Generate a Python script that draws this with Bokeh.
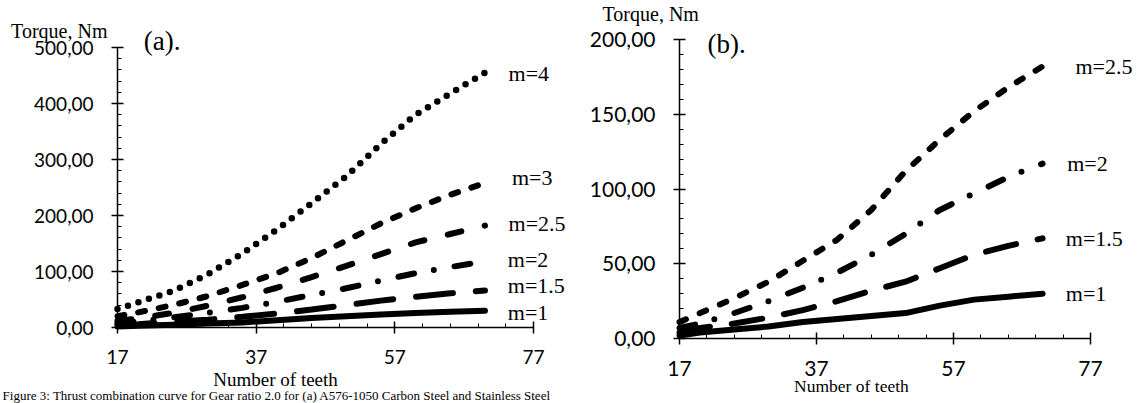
from bokeh.plotting import figure
from bokeh.models import Label, FixedTicker, LinearAxis, Range1d
from bokeh.embed import file_html
from bokeh.resources import INLINE

# ---------------- data ----------------
teeth = [17, 20, 25, 30, 35, 40, 45, 50, 55, 60, 65, 70]

# panel (a)
a_m4 = [33, 45, 65, 95, 132, 175, 222, 270, 328, 380, 418, 455]
a_m3 = [20, 27, 40, 56, 76, 97, 124, 155, 186, 213, 237, 258]
a_m25 = [12, 16, 26, 39, 54, 71, 90, 110, 131, 152, 167, 182]
a_m2 = [8, 11, 18, 26, 35, 46, 58, 70, 84, 97, 108, 118]
a_m15 = [5, 6, 10, 14, 19, 25, 32, 40, 48, 55, 61, 66]
a_m1 = [2, 3, 5, 7, 9, 13, 17, 20, 23, 26, 28, 30]

# panel (b)
b_m25 = [11, 17, 27, 38, 52, 66, 86, 112, 133, 152, 168, 182]
b_m2 = [7, 10, 17, 25, 34, 44, 56, 70, 86, 97, 108, 117]
b_m15 = [4, 7, 10, 14, 19, 25, 32, 38, 47, 56, 62, 67]
b_m1 = [2, 4, 6, 8, 11, 13, 15, 17, 22, 26, 28, 30]

x_ticks = [17, 37, 57, 77]
x_labels = ["17", "37", "57", "77"]
a_y_ticks = [0, 100, 200, 300, 400, 500]
a_y_labels = ["0,00", "100,00", "200,00", "300,00", "400,00", "500,00"]
b_y_ticks = [0, 50, 100, 150, 200]
b_y_labels = ["0,00", "50,00", "100,00", "150,00", "200,00"]

a_names = ["m=4", "m=3", "m=2.5", "m=2", "m=1.5", "m=1"]
b_names = ["m=2.5", "m=2", "m=1.5", "m=1"]

caption = ("Figure 3:  Thrust combination curve for Gear ratio 2.0 for (a) "
           "A576-1050 Carbon Steel and Stainless Steel")

SERIF = "Liberation Serif"
SANS = "Lato"
W, H = 1144, 403


def ranges(ax0_px, ax1_px, y0_px, y1_px, ymax):
    """Data ranges so that x=17..77 and y=0..ymax land at the given pixels."""
    kx = 60.0 / (ax1_px - ax0_px)
    ky = float(ymax) / (y0_px - y1_px)
    xr = Range1d(17 - ax0_px * kx, 77 + (W - ax1_px) * kx)
    yr = Range1d(-(H - y0_px) * ky, ymax + y1_px * ky)
    return xr, yr


xa_r, ya_r = ranges(117, 533, 327, 47, 500)
xb_r, yb_r = ranges(679, 1090, 338, 39, 200)

p = figure(width=W, height=H, x_range=xa_r, y_range=ya_r,
           output_backend="svg", toolbar_location=None,
           x_axis_type=None, y_axis_type=None,
           min_border=0, min_border_left=0, min_border_right=0,
           min_border_top=0, min_border_bottom=0)
p.extra_x_ranges = {"b": xb_r}
p.extra_y_ranges = {"b": yb_r}
p.title.visible = False
p.xgrid.visible = False
p.ygrid.visible = False
p.outline_line_color = None
p.background_fill_color = "white"
p.border_fill_color = "white"


def add_axes(rn, ymax, yticks, ylabels, yminor, tick_size):
    kw = {} if rn is None else dict(x_range_name=rn, y_range_name=rn)
    xa = LinearAxis(fixed_location=0, bounds=(17, 77),
                    ticker=FixedTicker(ticks=x_ticks, minor_ticks=list(range(17, 78, 4))),
                    major_label_overrides=dict(zip(x_ticks, x_labels)), **kw)
    ya = LinearAxis(fixed_location=17, bounds=(0, ymax),
                    ticker=FixedTicker(ticks=yticks, minor_ticks=yminor),
                    major_label_overrides=dict(zip(yticks, ylabels)), **kw)
    for ax in (xa, ya):
        ax.axis_line_color = "black"
        ax.axis_line_width = 1.5
        ax.major_tick_line_color = "black"
        ax.major_tick_line_width = 1.5
        ax.minor_tick_line_color = "black"
        ax.minor_tick_line_width = 1
        ax.major_tick_in = 6
        ax.major_tick_out = 6
        ax.minor_tick_in = 4
        ax.minor_tick_out = 0
        ax.major_label_text_font = SANS
        ax.major_label_text_font_size = tick_size
        ax.major_label_text_color = "black"
    xa.major_label_standoff = 16
    ya.major_label_standoff = 18
    p.add_layout(xa, "below")
    p.add_layout(ya, "left")


def lbl(x, y, text, size, rn=None, align="left", baseline="middle", font=SERIF):
    kw = {} if rn is None else dict(x_range_name=rn, y_range_name=rn)
    p.add_layout(Label(x=x, y=y, text=text, text_font=font,
                       text_font_size=size, text_color="black",
                       text_align=align, text_baseline=baseline, **kw))


LW = 6

# ---------------- panel (a) ----------------
add_axes(None, 500, a_y_ticks, a_y_labels, list(range(0, 501, 20)), "19px")

p.line(teeth, a_m1, line_width=LW, color="black", line_cap="round")
p.line(teeth, a_m15, line_width=LW, color="black", line_cap="round", line_dash="37 23")
p.line(teeth, a_m2, line_width=LW, color="black", line_cap="round", line_dash="16 20 0 21")
p.line(teeth, a_m25, line_width=LW, color="black", line_cap="round", line_dash="14 24")
p.line(teeth, a_m3, line_width=LW, color="black", line_cap="round", line_dash="7 14")
p.line(teeth, a_m4, line_width=6.5, color="black", line_cap="round", line_dash="0 11")

a_lab_x = [73.4, 73.9, 73.4, 73.3, 73.3, 73.3]
a_lab_y = [454, 268, 186, 121, 75, 27]
for nm, lx, ly in zip(a_names, a_lab_x, a_lab_y):
    lbl(lx, ly, nm, "22px")

lbl(8.6, 530, "Torque, Nm", "20px", align="center", baseline="alphabetic")
lbl(20.8, 512, "(a).", "27px", baseline="alphabetic")
lbl(39.8, -92, "Number of teeth", "19px", align="center", baseline="alphabetic")

# ---------------- panel (b) ----------------
add_axes("b", 200, b_y_ticks, b_y_labels, list(range(0, 201, 10)), "21px")

p.line(teeth, b_m1, line_width=LW, color="black", line_cap="round",
       x_range_name="b", y_range_name="b")
p.line(teeth, b_m15, line_width=LW, color="black", line_cap="round", line_dash="31 22",
       x_range_name="b", y_range_name="b")
p.line(teeth, b_m2, line_width=LW, color="black", line_cap="round", line_dash="16 20 0 21",
       x_range_name="b", y_range_name="b")
p.line(teeth, b_m25, line_width=LW, color="black", line_cap="round", line_dash="7 15",
       x_range_name="b", y_range_name="b")

b_lab_x = [74.8, 73.6, 73.4, 73.4]
b_lab_y = [182, 117, 67, 30]
for nm, lx, ly in zip(b_names, b_lab_x, b_lab_y):
    lbl(lx, ly, nm, "22px", rn="b")

lbl(12.8, 217, "Torque, Nm", "20px", rn="b", align="center", baseline="alphabetic")
lbl(21.1, 197, "(b).", "27px", rn="b", baseline="alphabetic")
lbl(42.1, -32, "Number of teeth", "17.5px", rn="b", align="center", baseline="alphabetic")

# ---------------- caption (cut in the reference, kept whole here) ----------------
lbl(xa_r.start + 0.3, -135.5, caption, "13px", baseline="bottom")

open("out.html", "w").write(file_html(p, INLINE))
